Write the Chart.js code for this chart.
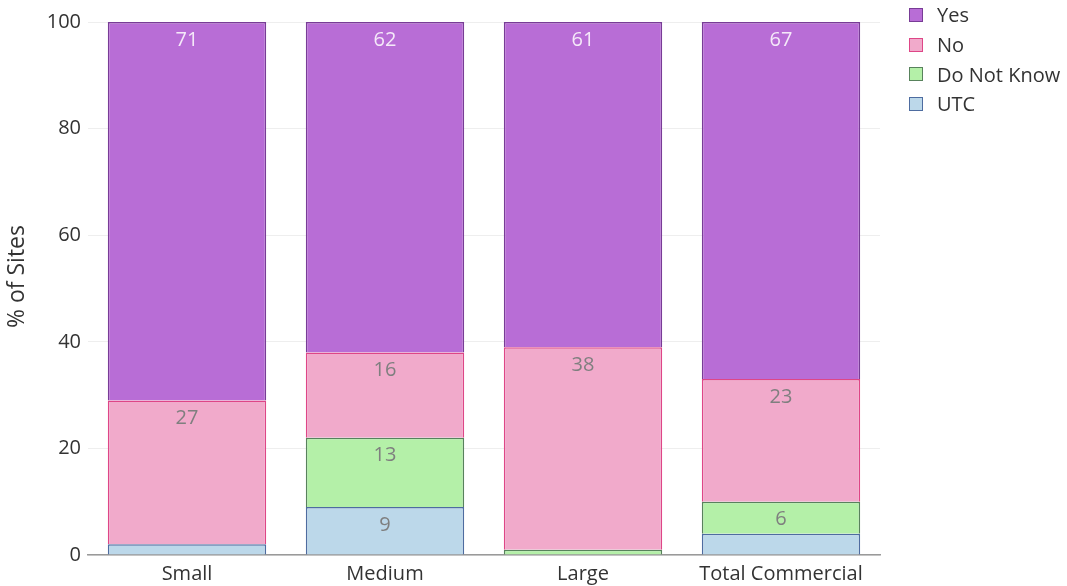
<!DOCTYPE html>
<html>
<head>
    <title>% of Sites</title>
    <script src="https://cdn.jsdelivr.net/npm/chart.js"></script>
    <style>
      html, body {
    margin: 0;
    padding: 0;
    background-color: #fff;
    font-family: 'Open Sans', 'Noto Sans', sans-serif;
}

#wrap {
    width: 1067px;
    height: 586px;
    position: relative;
}

#legend {
    position: absolute;
    left: 909px;
    top: 0px;
    margin: 0;
    padding: 0;
    list-style: none;
}

#legend li {
    height: 29.7px;
    display: flex;
    align-items: center;
    font-size: 20px;
    color: #333;
}

#legend span.box {
    display: inline-block;
    width: 12px;
    height: 12px;
    border: 1.5px solid;
    margin-right: 14px;
}
    </style>
</head>
<body>
  <div id="wrap">
    <canvas id="sitesChart"></canvas>
    <ul id="legend"></ul>
  </div>

  <script>
// Chart data
const categories = ['Small', 'Medium', 'Large', 'Total Commercial'];
const utcValues = [2, 9, 0, 4];
const dontKnowValues = [0, 13, 1, 6];
const noValues = [27, 16, 38, 23];
const yesValues = [71, 62, 61, 67];
const yTicks = [0, 20, 40, 60, 80, 100];

const FONT = "'Open Sans', 'Noto Sans', sans-serif";

// draw the value near the top of each segment (skip the thin ones)
const segmentLabels = {
    id: 'segmentLabels',
    afterDatasetsDraw(chart) {
        const ctx = chart.ctx;
        ctx.save();
        ctx.font = '20px ' + FONT;
        ctx.textAlign = 'center';
        ctx.textBaseline = 'middle';
        chart.data.datasets.forEach((ds, i) => {
            const meta = chart.getDatasetMeta(i);
            if (meta.hidden) return;
            meta.data.forEach((bar, j) => {
                const v = ds.data[j];
                if (v < 5) return;
                ctx.fillStyle = ds.labelColor;
                ctx.fillText(String(v), bar.x, bar.y + 18);
            });
        });
        ctx.restore();
    }
};

const ctx = document.getElementById('sitesChart').getContext('2d');

const chart = new Chart(ctx, {
    type: 'bar',
    data: {
        labels: categories,
        datasets: [
            {
                label: 'UTC',
                data: utcValues,
                backgroundColor: 'rgba(188, 216, 234, 1)',
                borderColor: 'rgba(78, 108, 160, 1)',
                labelColor: '#7f7f7f',
                borderWidth: 1.5
            },
            {
                label: 'Do Not Know',
                data: dontKnowValues,
                backgroundColor: 'rgba(180, 240, 168, 1)',
                borderColor: 'rgba(88, 130, 92, 1)',
                labelColor: '#7f7f7f',
                borderWidth: 1.5
            },
            {
                label: 'No',
                data: noValues,
                backgroundColor: 'rgba(241, 170, 203, 1)',
                borderColor: 'rgba(222, 70, 135, 1)',
                labelColor: '#7f7f7f',
                borderWidth: 1.5
            },
            {
                label: 'Yes',
                data: yesValues,
                backgroundColor: 'rgba(184, 109, 214, 1)',
                borderColor: 'rgba(120, 60, 150, 1)',
                labelColor: 'rgba(255, 255, 255, 0.85)',
                borderWidth: 1.5
            }
        ]
    },
    options: {
        responsive: true,
        maintainAspectRatio: false,
        animation: false,
        layout: {
            padding: { top: 22, right: 187, left: 0, bottom: 0 }
        },
        datasets: {
            bar: {
                categoryPercentage: 0.8,
                barPercentage: 1.0
            }
        },
        scales: {
            x: {
                stacked: true,
                afterFit(axis) { axis.height = 31; },
                grid: { display: false, drawTicks: false },
                border: { display: true, color: '#9a9a9a', width: 1.5 },
                ticks: {
                    color: '#333',
                    font: { family: FONT, size: 20 },
                    padding: 7
                }
            },
            y: {
                stacked: true,
                min: 0,
                max: 100,
                afterBuildTicks(axis) {
                    axis.ticks = yTicks.map(v => ({ value: v }));
                },
                afterFit(axis) { axis.width = 88; },
                grid: { color: '#eeeeee', drawTicks: false },
                border: { display: false },
                ticks: {
                    color: '#333',
                    font: { family: FONT, size: 20 },
                    padding: 7
                },
                title: {
                    display: true,
                    // leading spaces nudge the title up a little, like the original
                    text: '\u00a0\u00a0\u00a0\u00a0% of Sites',
                    color: '#333',
                    font: { family: FONT, size: 23 },
                    padding: { top: 4, bottom: 0 }
                }
            }
        },
        plugins: {
            legend: { display: false },
            tooltip: { enabled: false },
            title: { display: false }
        }
    },
    plugins: [segmentLabels]
});

// legend on the right, Yes first
const legendEl = document.getElementById('legend');
chart.data.datasets.slice().reverse().forEach(ds => {
    const li = document.createElement('li');
    const box = document.createElement('span');
    box.className = 'box';
    box.style.background = ds.backgroundColor;
    box.style.borderColor = ds.borderColor;
    li.appendChild(box);
    li.appendChild(document.createTextNode(ds.label));
    legendEl.appendChild(li);
});
  </script>
</body>
</html>
